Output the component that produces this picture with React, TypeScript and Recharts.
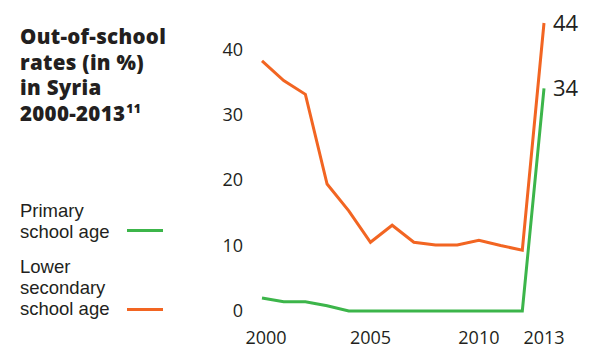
import { LineChart, Line, XAxis, YAxis } from 'recharts';

const years = [2000, 2001, 2002, 2003, 2004, 2005, 2006, 2007, 2008, 2009, 2010, 2011, 2012, 2013];
const primaryAge = [2.0, 1.4, 1.4, 0.8, 0, 0, 0, 0, 0, 0, 0, 0, 0, 34];
const lowerSecondaryAge = [38.2, 35.2, 33.1, 19.4, 15.3, 10.5, 13.1, 10.5, 10.1, 10.1, 10.8, 10.0, 9.3, 44];
const xTicks = [2000, 2005, 2010, 2013];
const yTicks = [0, 10, 20, 30, 40];

const GREEN = '#3cb54a';
const ORANGE = '#f26522';
const TEXT = '#231f20';
const FONT = '"Open Sans", sans-serif';
// tighter metrics so the stacked legend lines don't collide
const LEGEND_FONT = '"Liberation Sans", Arial, sans-serif';

const data = years.map((year, i) => ({
  year,
  primary: primaryAge[i],
  lowerSecondary: lowerSecondaryAge[i],
}));

const lastIndex = years.length - 1;

// value label next to the final point of each line
const endLabel = (props: any) => {
  if (props.index !== lastIndex) return <g key={props.index} />;
  return (
    <text
      key={props.index}
      x={props.x + 9}
      y={props.y}
      dy="0.35em"
      fontSize={22}
      fontFamily={FONT}
      fill={TEXT}
    >
      {props.value}
    </text>
  );
};

// year ticks; the first one sits a bit right of its point in the original
const YearTick = (props: any) => {
  const { x, y, payload } = props;
  const shift = payload.value === xTicks[0] ? 4 : 0;
  return (
    <text x={x + shift} y={y} dy="0.71em" textAnchor="middle" fontSize={18} fontFamily={FONT} fill={TEXT}>
      {payload.value}
    </text>
  );
};

export default function App() {
  const legendText = { position: 'absolute' as const, left: 20, fontSize: 18.5, lineHeight: '21px', fontFamily: LEGEND_FONT };

  return (
    <div style={{ position: 'absolute', left: 0, top: 0, width: 600, height: 363, background: '#fff', fontFamily: FONT, color: TEXT }}>
      <LineChart width={600} height={363} data={data} margin={{ top: 23, right: 56, bottom: 0, left: 202 }}>
        <XAxis
          dataKey="year"
          type="number"
          domain={[2000, 2013]}
          ticks={xTicks}
          axisLine={false}
          tickLine={false}
          tickSize={0}
          tickMargin={20}
          height={52}
          tick={<YearTick />}
        />
        <YAxis
          type="number"
          domain={[0, 44]}
          ticks={yTicks}
          axisLine={false}
          tickLine={false}
          tickSize={0}
          tickMargin={19}
          width={60}
          tick={{ fontSize: 18, fill: TEXT, fontFamily: FONT }}
        />
        <Line dataKey="lowerSecondary" stroke={ORANGE} strokeWidth={3} dot={false} isAnimationActive={false} label={endLabel} />
        <Line dataKey="primary" stroke={GREEN} strokeWidth={3} dot={false} isAnimationActive={false} label={endLabel} />
      </LineChart>

      {/* Title */}
      <div style={{ position: 'absolute', left: 20, top: 24, fontSize: 20.5, lineHeight: '25.5px', fontWeight: 800, letterSpacing: 0.3 }}>
        Out-of-school<br />
        rates (in %)<br />
        in Syria<br />
        2000-2013<sup style={{ fontSize: 12, verticalAlign: 'top', lineHeight: '12px', position: 'relative', top: 2, marginLeft: 1 }}>11</sup>
      </div>

      {/* Legend */}
      <div style={{ ...legendText, top: 200 }}>
        Primary<br />school age
      </div>
      <div style={{ position: 'absolute', left: 127, top: 229, width: 36, height: 3, background: GREEN }} />
      <div style={{ ...legendText, top: 256 }}>
        Lower<br />secondary<br />school age
      </div>
      <div style={{ position: 'absolute', left: 127, top: 308, width: 36, height: 3, background: ORANGE }} />
    </div>
  );
}
